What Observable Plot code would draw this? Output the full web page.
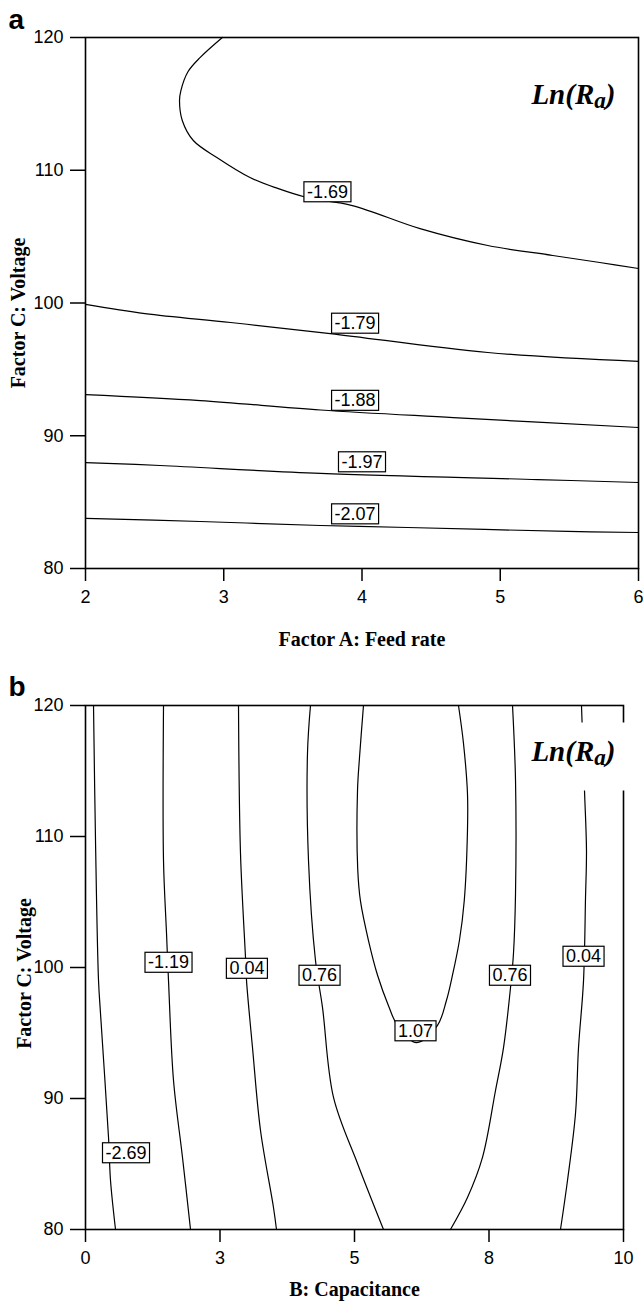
<!DOCTYPE html>
<html>
<head>
<meta charset="utf-8">
<script src="https://cdn.jsdelivr.net/npm/d3@7"></script>
<script src="https://cdn.jsdelivr.net/npm/@observablehq/plot@0.6"></script>
<style>
  html, body { margin: 0; padding: 0; background: white; }
  svg { display: block; }
</style>
</head>
<body>
<script>
// ---------- data ----------
const feedTicks = [2, 3, 4, 5, 6];
const voltTicks = [80, 90, 100, 110, 120];
const capTicks = [0, 2.5, 5, 7.5, 10];
const capTickLabels = ["0", "3", "5", "8", "10"];

// Panel a contours: [feed rate, voltage]
const a_m169 = [[2.99,120],[2.83,118.5],[2.74,117.4],[2.69,116.0],[2.68,115.25],[2.70,113.75],[2.78,112.24],[2.95,110.96],[3.19,109.45],[3.39,108.63],[3.6,107.95],[3.93,107.34],[4.42,105.6],[4.91,104.33],[5.38,103.58],[5.72,103.05],[6.0,102.6]];
const a_m179 = [[2,99.89],[2.43,99.2],[3.05,98.53],[3.77,97.7],[4.91,96.27],[6,95.6]];
const a_m188 = [[2,93.1],[2.83,92.65],[3.70,91.94],[4.66,91.37],[6,90.62]];
const a_m197 = [[2,87.98],[2.54,87.76],[3.70,87.16],[5.27,86.7],[6,86.48]];
const a_m207 = [[2,83.77],[2.83,83.54],[3.70,83.24],[4.33,83.09],[5.49,82.79],[6,82.71]];
const levelsA = ["-1.69", "-1.79", "-1.88", "-1.97", "-2.07"];
const labelFeedA = [3.75, 3.95, 3.95, 4.0, 3.95];
const labelVoltA = [108.36, 98.46, 92.65, 88.02, 84.1];

// Panel b contours: [capacitance, voltage]
const b_m269 = [[0.149,120],[0.186,109.69],[0.242,99.0],[0.279,96.49],[0.428,87.02],[0.465,83.74],[0.558,80]];
const b_m119 = [[1.45,120],[1.45,108.17],[1.506,102.6],[1.543,99.0],[1.636,91.37],[1.803,85.5],[1.952,80]];
const b_004L = [[2.844,120],[2.881,108.7],[2.974,100.76],[2.993,99.0],[3.104,93.89],[3.253,87.56],[3.494,81.68],[3.55,80]];
const b_076L = [[4.182,120],[4.126,116.34],[4.145,108.17],[4.275,100.53],[4.405,96.95],[4.61,90.08],[5.056,85.04],[5.539,80]];
const b_107 = [[5.167,120],[5.093,116.03],[5.056,113.51],[5.06,107.5],[5.11,105.1],[5.26,102.06],[5.43,99.39],[5.63,97.1],[5.8,95.57],[6.152,94.27],[6.54,95.57],[6.71,97.5],[6.82,99.39],[6.95,102.06],[7.04,105.1],[7.1,110.46],[7.1,113.28],[7.026,117.1],[6.933,120]];
const b_076R = [[7.937,120],[7.993,114.27],[7.993,105.65],[7.955,101.07],[7.9,98.47],[7.77,93.89],[7.621,90.61],[7.379,85.5],[7.1,82.44],[6.784,80]];
const b_004R = [[9.219,120],[9.275,113.51],[9.312,108.93],[9.294,105.34],[9.257,99.0],[9.164,93.89],[9.108,88.85],[8.959,83.74],[8.829,80]];
const levelsB = ["-2.69", "-1.19", "0.04", "0.76", "1.07", "0.76", "0.04"];
const labelCapB = [0.753, 1.543, 3.0, 4.35, 6.134, 7.89, 9.257];
const labelVoltB = [85.84, 100.38, 99.92, 99.39, 95.15, 99.39, 100.84];

// ---------- helpers ----------
const NS = "http://www.w3.org/2000/svg";
const SANS = "Liberation Sans, Arial, sans-serif";
const SERIF = "Liberation Serif, Times New Roman, serif";

function contourMarks(list) {
  return list.map(pts => Plot.line(pts, {curve: "catmull-rom", stroke: "black", strokeWidth: 1.2}));
}

function panel({xDomain, xTicks, xFormat, xTitle, letter, width, height, mt, mr, mb, ml,
                contours, labels, xTitleDy, yTitleDx, yTitleDy, letterDy, lnDx, lnDy}) {
  return Plot.plot({
    width, height,
    marginTop: mt, marginRight: mr, marginBottom: mb, marginLeft: ml,
    x: {domain: xDomain},
    y: {domain: [80, 120]},
    style: {background: "white", overflow: "visible"},
    marks: [
      ...contourMarks(contours),
      Plot.frame({stroke: "black", strokeWidth: 1.6}),
      Plot.axisX({ticks: xTicks, tickFormat: xFormat, tickSize: 13, tickPadding: 9, strokeWidth: 1.5,
                  fontSize: 18, fontFamily: SANS, label: null}),
      Plot.axisY({ticks: voltTicks, tickFormat: d => String(d), tickSize: 15, tickPadding: 7, strokeWidth: 1.5,
                  fontSize: 18, fontFamily: SANS, label: null}),
      Plot.text(labels, {x: "x", y: "y", text: "t", fontSize: 18, fontFamily: SANS, fill: "black",
                         ariaDescription: "clabels"}),
      Plot.text([xTitle], {frameAnchor: "bottom", dy: xTitleDy, lineAnchor: "bottom", textAnchor: "middle",
                           fontFamily: SERIF, fontWeight: "bold", fontSize: 20}),
      Plot.text(["Factor C: Voltage"], {frameAnchor: "left", rotate: -90, dx: yTitleDx, dy: yTitleDy,
                           lineAnchor: "bottom", textAnchor: "middle",
                           fontFamily: SERIF, fontWeight: "bold", fontSize: 20}),
      Plot.text([letter], {frameAnchor: "top-left", dx: 8 - ml, dy: letterDy, textAnchor: "start", lineAnchor: "bottom",
                           fontFamily: SANS, fontWeight: "bold", fontSize: 28}),
      Plot.text(["Ln(Ra)"], {frameAnchor: "top-right", dx: lnDx, dy: lnDy, textAnchor: "end", lineAnchor: "bottom",
                           fontFamily: SERIF, fontWeight: "bold", fontStyle: "italic", fontSize: 29,
                           ariaDescription: "lnra"})
    ]
  });
}

function boxLabels(svg) {
  svg.querySelectorAll('g[aria-description="clabels"] text').forEach(t => {
    const bb = t.getBBox();
    const r = document.createElementNS(NS, "rect");
    r.setAttribute("x", bb.x - 3);
    r.setAttribute("y", bb.y);
    r.setAttribute("width", bb.width + 6);
    r.setAttribute("height", bb.height);
    r.setAttribute("fill", "white");
    r.setAttribute("stroke", "black");
    r.setAttribute("stroke-width", 1.2);
    const tr = t.getAttribute("transform");
    if (tr) r.setAttribute("transform", tr);
    t.parentNode.insertBefore(r, t);
  });
}

function subscript(svg) {
  const t = svg.querySelector('g[aria-description="lnra"] text');
  if (!t) return;
  t.textContent = "";
  t.appendChild(document.createTextNode("Ln(R"));
  const s = document.createElementNS(NS, "tspan");
  s.setAttribute("font-size", "0.8em");
  s.setAttribute("dy", "4");
  s.textContent = "a";
  const c = document.createElementNS(NS, "tspan");
  c.setAttribute("dy", "-4");
  c.textContent = ")";
  t.appendChild(s);
  t.appendChild(c);
  const bb = t.getBBox();
  const r = document.createElementNS(NS, "rect");
  r.setAttribute("x", bb.x - 6);
  r.setAttribute("y", bb.y - 12);
  r.setAttribute("width", bb.width + 18);
  r.setAttribute("height", bb.height + 33);
  r.setAttribute("fill", "white");
  const tr = t.getAttribute("transform");
  if (tr) r.setAttribute("transform", tr);
  t.parentNode.insertBefore(r, t);
}

// ---------- panel a ----------
const labelsA = levelsA.map((t, i) => ({t, x: labelFeedA[i], y: labelVoltA[i]}));
const svgA = panel({
  xDomain: [2, 6], xTicks: feedTicks, xFormat: d => String(d), xTitle: "Factor A: Feed rate", letter: "a",
  width: 643, height: 660, mt: 37, mr: 5, mb: 92, ml: 85,
  contours: [a_m169, a_m179, a_m188, a_m197, a_m207], labels: labelsA,
  xTitleDy: 77, yTitleDx: -61, yTitleDy: 10, letterDy: -9, lnDx: -23, lnDy: 66
});
document.body.appendChild(svgA);
boxLabels(svgA);
subscript(svgA);

// ---------- panel b ----------
const labelsB = levelsB.map((t, i) => ({t, x: labelCapB[i], y: labelVoltB[i]}));
const svgB = panel({
  xDomain: [0, 10], xTicks: capTicks, xFormat: d => capTickLabels[capTicks.indexOf(d)], xTitle: "B: Capacitance", letter: "b",
  width: 643, height: 642, mt: 45, mr: 20, mb: 73, ml: 85,
  contours: [b_m269, b_m119, b_004L, b_076L, b_107, b_076R, b_004R], labels: labelsB,
  xTitleDy: 66, yTitleDx: -55, yTitleDy: 6, letterDy: -10, lnDx: -8, lnDy: 55
});
document.body.appendChild(svgB);
boxLabels(svgB);
subscript(svgB);
</script>
</body>
</html>
